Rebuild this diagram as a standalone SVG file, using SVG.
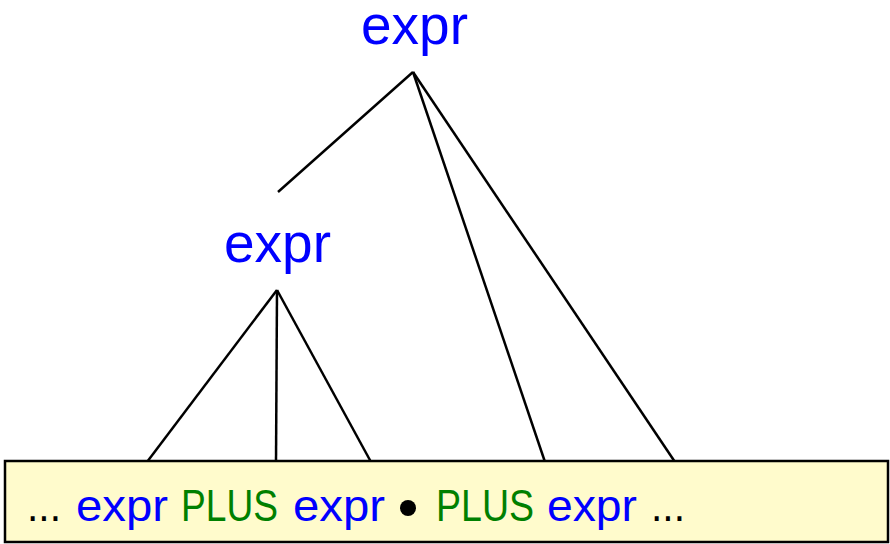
<svg xmlns="http://www.w3.org/2000/svg" width="890" height="544" viewBox="0 0 890 544">
<style>
.nt{font-family:"Liberation Sans",Arial,sans-serif;font-size:55px;fill:#0000ff}
.b{font-family:"Liberation Sans",Arial,sans-serif;font-size:44px}
.bl{fill:#0000ff}.gr{fill:#008000}.bk{fill:#000}
.edge{stroke:#000;stroke-width:2.5;fill:none}
</style>
<rect x="0" y="0" width="890" height="544" fill="#fff"/>
<g id="connectors">
<line class="edge" x1="413" y1="72" x2="278" y2="192"/>
<line class="edge" x1="413" y1="72" x2="545" y2="462"/>
<line class="edge" x1="413" y1="72" x2="675" y2="462"/>
<line class="edge" x1="277" y1="290" x2="147" y2="462"/>
<line class="edge" x1="277" y1="290" x2="276" y2="462"/>
<line class="edge" x1="277" y1="290" x2="371" y2="462"/>
</g>
<g id="node-expr-top"><text class="nt" x="361" y="44">expr</text></g>
<g id="node-expr-mid"><text class="nt" x="224" y="262">expr</text></g>
<g id="node-input">
<rect x="5" y="461" width="883" height="81" fill="#fffbcc" stroke="#000" stroke-width="2.5"/>
<text class="b bk" x="27" y="521" textLength="34" lengthAdjust="spacingAndGlyphs">...</text>
<text class="b bl" x="76" y="521" textLength="92" lengthAdjust="spacingAndGlyphs">expr</text>
<text class="b gr" x="181" y="521" textLength="97" lengthAdjust="spacingAndGlyphs">PLUS</text>
<text class="b bl" x="293" y="521" textLength="92" lengthAdjust="spacingAndGlyphs">expr</text>
<circle cx="408" cy="508" r="8" fill="#000"/>
<text class="b gr" x="436" y="521" textLength="98" lengthAdjust="spacingAndGlyphs">PLUS</text>
<text class="b bl" x="547" y="521" textLength="90" lengthAdjust="spacingAndGlyphs">expr</text>
<text class="b bk" x="651" y="521" textLength="34" lengthAdjust="spacingAndGlyphs">...</text>
</g>
</svg>
